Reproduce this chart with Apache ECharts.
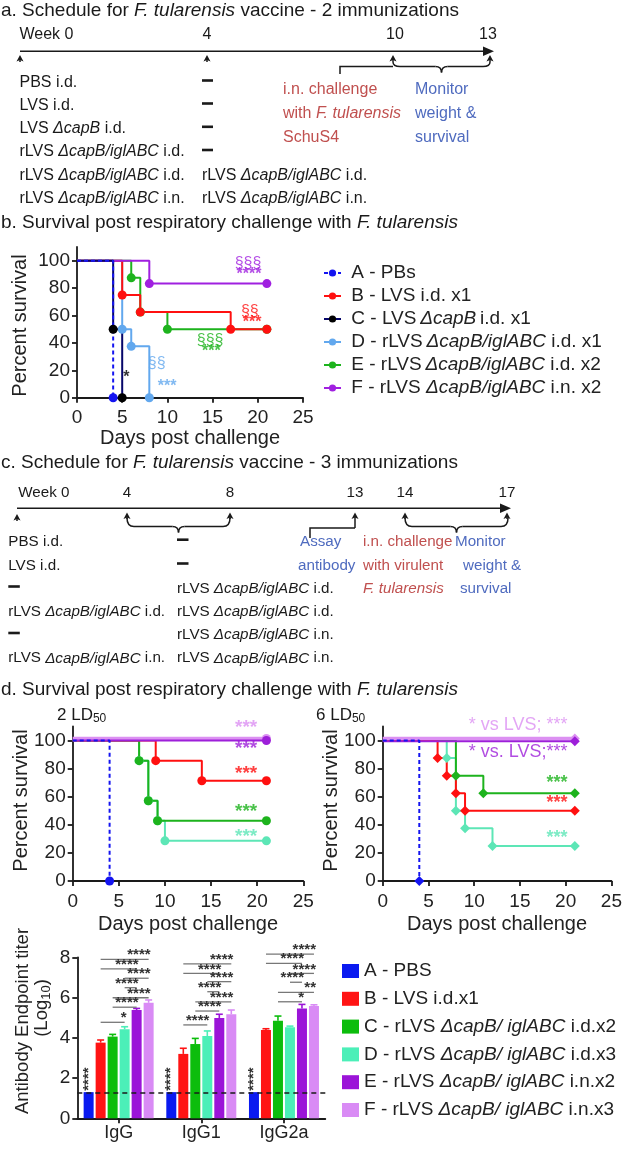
<!DOCTYPE html>
<html><head><meta charset="utf-8">
<script src="https://cdn.jsdelivr.net/npm/echarts@6/dist/echarts.min.js"></script>
<style>html,body{margin:0;padding:0;background:#fff}#c{width:625px;height:1149px}</style>
</head><body><div id="c"></div>
<script>
// ================= DATA =================
const survivalTicks = [0, 20, 40, 60, 80, 100];

// Panel b: Kaplan-Meier (2 immunizations)
const bGroups = ['A - PBs', 'B - LVS i.d. x1', 'C - LVS\u2009ΔcapB\u2009i.d. x1', 'D - rLVS\u2009ΔcapB/iglABC i.d. x1', 'E - rLVS\u2009ΔcapB/iglABC i.d. x2', 'F - rLVS ΔcapB/iglABC i.n. x2'];
const bDays = [[0, 4], [0, 5, 7, 17, 21], [0, 4, 5], [0, 5, 6, 8], [0, 6, 7, 10, 21], [0, 8, 21]];
const bSurvival = [[100, 0], [100, 75, 62.5, 50, 50], [100, 50, 0], [100, 50, 37.5, 0], [100, 87.5, 62.5, 50, 50], [100, 83.3, 83.3]];
// annotations: [day (right edge), survival, text, group index]
const bNotes = [[20.4, 98, '§§§', 5], [20.4, 90, '****', 5], [20.1, 63, '§§', 1], [20.4, 55, '***', 1], [16.2, 42, '§§§', 4], [15.9, 34, '***', 4], [9.8, 25, '§§', 3], [11.0, 8, '***', 3], [5.8, 15, '*', 2]];

// Panel d: 2 LD50
const d2Days = [[0, 4], [0, 9, 14, 21], [0, 7.2, 8.2, 9.2, 21], [0, 7.2, 8.2, 9.2, 10, 21], [0, 21], [0, 21]];
const d2Survival = [[100, 0], [100, 85.7, 71.4, 71.4], [100, 85.7, 57.1, 42.9, 42.9], [100, 85.7, 57.1, 42.9, 28.6, 28.6], [100, 100], [101.5, 101.5]];
const d2Notes = [[20.0, 108.8, '***', 5], [20.0, 94.5, '***', 4], [20.0, 76.7, '***', 1], [20.0, 49.4, '***', 2], [20.0, 31.6, '***', 3]];

// Panel d: 6 LD50
const d6Days = [[0, 4], [0, 6, 7, 8, 9, 21], [0, 8, 11, 21], [0, 7, 8, 9, 12, 21], [0, 21], [0, 21]];
const d6Survival = [[100, 0], [100, 87.5, 75, 62.5, 50, 50], [100, 75, 62.5, 62.5], [100, 87.5, 50, 37.5, 25, 25], [99.5, 99.5], [101.5, 101.5]];
const d6Notes = [[20.2, 111, '* vs LVS; ***', 5], [20.2, 92, '* vs. LVS;***', 4], [20.2, 69.6, '***', 2], [20.2, 55.8, '***', 1], [20.2, 30.4, '***', 3]];

// Antibody titers
const barCategories = ['IgG', 'IgG1', 'IgG2a'];
const barGroups = ['A - PBS', 'B - LVS i.d.x1', 'C - rLVS ΔcapB/ iglABC i.d.x2', 'D - rLVS ΔcapB/ iglABC i.d.x3', 'E - rLVS ΔcapB/ iglABC i.n.x2', 'F - rLVS ΔcapB/ iglABC i.n.x3'];
const titerMean = [[1.3, 1.3, 1.3], [3.76, 3.2, 4.39], [4.06, 3.69, 4.85], [4.42, 4.09, 4.52], [5.38, 4.98, 5.46], [5.74, 5.17, 5.58]];
const titerSEM = [[0, 0, 0], [0.13, 0.28, 0.06], [0.11, 0.28, 0.23], [0.13, 0.25, 0.06], [0.08, 0.19, 0.2], [0.14, 0.21, 0.06]];
const detectionLimit = 1.28;
// significance: [category, fromGroup, toGroup, level, text]
const sigPairs = [
  [0, 1, 5, 7.9, '****'], [0, 1, 4, 7.42, '****'], [0, 3, 5, 6.96, '****'], [0, 3, 4, 6.49, '****'], [0, 2, 5, 5.99, '****'], [0, 2, 4, 5.52, '****'], [0, 1, 3, 4.77, '*'],
  [1, 1, 5, 7.67, '****'], [1, 1, 4, 7.2, '****'], [1, 3, 5, 6.79, '****'], [1, 3, 4, 6.29, '****'], [1, 2, 5, 5.79, '****'], [1, 2, 4, 5.33, '****'], [1, 1, 3, 4.64, '****'],
  [2, 1, 5, 8.16, '****'], [2, 1, 4, 7.7, '****'], [2, 3, 5, 7.2, '****'], [2, 3, 4, 6.76, '****'], [2, 2, 5, 6.26, '**'], [2, 2, 4, 5.79, '*']
];
const pbsNoteLevel = 1.95;

// ================= STYLE =================
const FONT = "'Liberation Sans', Arial, Helvetica, sans-serif";
const INK = '#1a1a1a';
const bColors = ['#1414f0', '#ff1010', '#06066a', '#62a8ee', '#1db31d', '#a020e0'];
const bDotColors = ['#1414f0', '#ff1010', '#000000', '#62a8ee', '#1db31d', '#a020e0'];
const dColors = ['#1414f0', '#ff1010', '#1db31d', '#5de6b6', '#9d1fd9', '#dc90f2'];
const barColors = ['#0a1af0', '#ff1414', '#0cbd0c', '#4cefb8', '#9b14d8', '#d98bf5'];
const RED_TXT = '#c0504f', BLUE_TXT = '#4f6bbf';
const BAR_W = 10, BAR_GAP = 0.2;

function ital(s) { return s.replace(/ΔcapB\/ ?iglABC|ΔcapB/g, m => '{i|' + m + '}'); }

function axisBase(gridIndex) {
  return {
    gridIndex,
    axisLine: { show: true, onZero: false, lineStyle: { color: INK, width: 1.8 } },
    axisTick: { show: true, inside: false, length: 5, lineStyle: { color: INK, width: 1.8 } },
    splitLine: { show: false }
  };
}
function survX(gi, gap) {
  return Object.assign(axisBase(gi), {
    type: 'value', min: 0, max: 25, interval: 5,
    axisLabel: { fontSize: 19, color: '#222', margin: 11, fontFamily: FONT },
    name: 'Days post challenge', nameLocation: 'middle', nameGap: gap,
    nameTextStyle: { fontSize: 20, color: '#222', fontFamily: FONT }
  });
}
function survY(gi) {
  const a = axisBase(gi);
  a.axisTick.customValues = survivalTicks;
  return Object.assign(a, {
    type: 'value', min: 0, max: 110, interval: 20,
    axisLabel: { fontSize: 19, color: '#222', margin: 7, fontFamily: FONT, customValues: survivalTicks, formatter: v => (v > 100 ? '' : v) }
  });
}

function kmSeries(name, days, surv, axis, color, dotColor, symbol, size, dashed, width) {
  return {
    type: 'line', name, step: 'end', xAxisIndex: axis, yAxisIndex: axis,
    data: days.map((d, i) => i === 0 ? { value: [d, surv[i]], symbol: 'none' } : [d, surv[i]]),
    symbol, symbolSize: size, showAllSymbol: true, clip: false,
    lineStyle: { color, width: width || 2, type: dashed ? [4, 3] : 'solid' },
    itemStyle: { color: dotColor, borderWidth: 0 },
    emphasis: { disabled: true }
  };
}
function noteSeries(notes, axis, colors, fs) {
  return {
    type: 'scatter', xAxisIndex: axis, yAxisIndex: axis, symbolSize: 1, clip: false,
    itemStyle: { color: 'rgba(0,0,0,0)' }, silent: true, z: 5,
    data: notes.map(n => ({
      value: [n[0], n[1]],
      label: { show: true, position: 'inside', align: 'right', verticalAlign: 'middle', formatter: n[2], color: colors[n[3]], fontSize: fs, fontFamily: FONT, fontWeight: /^\*+$/.test(n[2]) ? 'bold' : 'normal' }
    }))
  };
}

// ================= SERIES =================
const series = [];
[4, 3, 1, 5, 2, 0].forEach(k => series.push(kmSeries(bGroups[k], bDays[k], bSurvival[k], 0, bColors[k], bDotColors[k], 'circle', 9, k === 0)));
series.push(noteSeries(bNotes, 0, bDotColors, 16));
[3, 2, 1, 5, 4, 0].forEach(k => series.push(kmSeries('2LD50 ' + k, d2Days[k], d2Survival[k], 1, dColors[k], dColors[k], 'circle', 9, k === 0, k === 5 ? 3.5 : 2)));
series.push(noteSeries(d2Notes, 1, dColors, 19));
[3, 2, 1, 5, 4, 0].forEach(k => series.push(kmSeries('6LD50 ' + k, d6Days[k], d6Survival[k], 2, dColors[k], dColors[k], 'diamond', 10, k === 0, k === 5 ? 3.5 : 2)));
series.push(noteSeries(d6Notes, 2, dColors, 18));

barGroups.forEach((n, j) => {
  const s = {
    type: 'bar', name: n, xAxisIndex: 3, yAxisIndex: 3, data: titerMean[j],
    barWidth: BAR_W, barGap: (BAR_GAP * 100) + '%', itemStyle: { color: barColors[j] }, emphasis: { disabled: true }
  };
  if (j === 0) s.markLine = { silent: true, symbol: 'none', label: { show: false }, lineStyle: { type: [5, 4], color: INK, width: 1.6 }, data: [{ yAxis: detectionLimit }] };
  series.push(s);
});
const errData = [];
titerMean.forEach((row, j) => row.forEach((m, c) => { if (titerSEM[j][c] > 0) errData.push([c, j, m, titerSEM[j][c]]); }));
series.push({
  type: 'custom', xAxisIndex: 3, yAxisIndex: 3, data: errData, encode: { x: 0, y: 2 }, z: 4, silent: true,
  renderItem(params, api) {
    const c = api.value(0), j = api.value(1), m = api.value(2), e = api.value(3);
    const base = api.coord([c, m]), top = api.coord([c, m + e]);
    const x = base[0] + (j - 2.5) * BAR_W * (1 + BAR_GAP);
    const st = { stroke: barColors[j], lineWidth: 1.6 };
    return { type: 'group', children: [
      { type: 'line', shape: { x1: x, y1: base[1], x2: x, y2: top[1] }, style: st },
      { type: 'line', shape: { x1: x - 3.5, y1: top[1], x2: x + 3.5, y2: top[1] }, style: st }
    ] };
  }
});
series.push({
  type: 'custom', xAxisIndex: 3, yAxisIndex: 3, data: sigPairs.map(p => [p[0], p[1], p[2], p[3]]), encode: { x: 0, y: 3 }, z: 5, silent: true,
  renderItem(params, api) {
    const c = api.value(0), f = api.value(1), t = api.value(2), lv = api.value(3);
    const p = api.coord([c, lv]);
    const pitch = BAR_W * (1 + BAR_GAP);
    const x1 = p[0] + (f - 2.5) * pitch, x2 = p[0] + (t - 2.5) * pitch;
    return { type: 'group', children: [
      { type: 'line', shape: { x1, y1: p[1], x2, y2: p[1] }, style: { stroke: '#777', lineWidth: 1.3 } },
      { type: 'text', style: { text: sigPairs[params.dataIndex][4], x: x2 + 2, y: p[1] + 3.5, align: 'right', verticalAlign: 'bottom', fontSize: 15, fontWeight: 'bold', fill: '#333', fontFamily: FONT } }
    ] };
  }
});
series.push({
  type: 'custom', xAxisIndex: 3, yAxisIndex: 3, data: barCategories.map((_, i) => [i, pbsNoteLevel]), encode: { x: 0, y: 1 }, z: 5, silent: true,
  renderItem(params, api) {
    const p = api.coord([api.value(0), api.value(1)]);
    const x = p[0] + (0 - 2.5) * BAR_W * (1 + BAR_GAP);
    return { type: 'text', x, y: p[1], rotation: Math.PI / 2, style: { text: '****', align: 'center', verticalAlign: 'middle', fontSize: 15, fontWeight: 'bold', fill: '#333', fontFamily: FONT } };
  }
});

// ================= GRAPHIC (schedules, titles) =================
const G = [];
function T(x, y, text, fs, fill, extra) {
  const style = Object.assign({
    text, x, y, fontSize: fs, fill: fill || INK, fontFamily: FONT, verticalAlign: 'middle', align: 'left',
    rich: {
      i: { fontStyle: 'italic', fontSize: fs, fill: fill || INK, fontFamily: FONT },
      s: { fontSize: Math.round(fs * 0.7), fill: fill || INK, fontFamily: FONT, padding: [Math.round(fs * 0.45), 0, 0, 0] }
    }
  }, extra || {});
  G.push({ type: 'text', style, silent: true });
}
function VT(x, y, text, fs) {
  G.push({ type: 'text', x, y, rotation: Math.PI / 2, silent: true, style: { text, align: 'center', verticalAlign: 'middle', fontSize: fs, fill: '#222', fontFamily: FONT,
    rich: { s: { fontSize: Math.round(fs * 0.7), fill: '#222', fontFamily: FONT, padding: [Math.round(fs * 0.45), 0, 0, 0] } } } });
}
function L(points, w) { G.push({ type: 'polyline', silent: true, shape: { points }, style: { stroke: INK, lineWidth: w || 1.5, fill: null } }); }
function Q(x1, y1, cx, cy, x2, y2) { G.push({ type: 'bezierCurve', silent: true, shape: { x1, y1, x2, y2, cpx1: cx, cpy1: cy }, style: { stroke: INK, lineWidth: 1.5, fill: null } }); }
function brace(xa, xb, yTop, yMid, yTip) {
  const m = (xa + xb) / 2;
  Q(xa, yTop, xa, yMid, xa + 7, yMid);
  L([[xa + 7, yMid], [m - 6, yMid]]);
  Q(m - 6, yMid, m, yMid, m, yTip);
  Q(m, yTip, m, yMid, m + 6, yMid);
  L([[m + 6, yMid], [xb - 7, yMid]]);
  Q(xb - 7, yMid, xb, yMid, xb, yTop);
}
function up(x, tip, bottom) {
  L([[x, tip + 4], [x, bottom]]);
  G.push({ type: 'polygon', silent: true, shape: { points: [[x, tip], [x - 3.5, tip + 6.5], [x, tip + 5], [x + 3.5, tip + 6.5]] }, style: { fill: INK } });
}
function right(x1, x2, y) {
  L([[x1, y], [x2 - 8, y]]);
  G.push({ type: 'polygon', silent: true, shape: { points: [[x2, y], [x2 - 11, y - 4.8], [x2 - 11, y + 4.8]] }, style: { fill: INK } });
}
function dash(x, y, w) { G.push({ type: 'rect', silent: true, shape: { x, y: y - 1.3, width: w, height: 2.6 }, style: { fill: INK } }); }

const TF = 19;
T(1, 11, 'a. Schedule for {i|F. tularensis} vaccine - 2 immunizations', TF);
T(1, 223, 'b. Survival post respiratory challenge with {i|F. tularensis}', TF);
T(1, 463, 'c. Schedule for {i|F. tularensis} vaccine - 3 immunizations', TF);
T(1, 690, 'd. Survival post respiratory challenge with {i|F. tularensis}', TF);

// Panel a schedule
const AF = 16;
T(19.5, 35, 'Week 0', AF);
T(207, 35, '4', AF, INK, { align: 'center' });
T(395, 35, '10', AF, INK, { align: 'center' });
T(488, 35, '13', AF, INK, { align: 'center' });
right(20, 494, 51.3);
up(20, 55, 62); up(207, 55, 62); up(393, 55, 62); up(490, 55, 62);
brace(393, 490, 62, 66.5, 72.5);
L([[340, 74], [340, 66.5], [393, 66.5]]);
const aRows = [82.5, 105.5, 128.8, 152, 175.2, 198.4];
T(19.5, aRows[0], 'PBS i.d.', AF);
T(19.5, aRows[1], 'LVS i.d.', AF);
T(19.5, aRows[2], 'LVS {i|ΔcapB} i.d.', AF);
T(19.5, aRows[3], 'rLVS {i|ΔcapB/iglABC} i.d.', AF);
T(19.5, aRows[4], 'rLVS {i|ΔcapB/iglABC} i.d.', AF);
T(19.5, aRows[5], 'rLVS {i|ΔcapB/iglABC} i.n.', AF);
[0, 1, 2, 3].forEach(r => dash(202, aRows[r] - 2, 11));
T(202, aRows[4], 'rLVS {i|ΔcapB/iglABC} i.d.', AF);
T(202, aRows[5], 'rLVS {i|ΔcapB/iglABC} i.n.', AF);
T(283, 90, 'i.n. challenge', AF, RED_TXT);
T(283, 114, 'with {i|F. tularensis}', AF, RED_TXT);
T(283, 138, 'SchuS4', AF, RED_TXT);
T(415, 90, 'Monitor', AF, BLUE_TXT);
T(415, 114, 'weight &', AF, BLUE_TXT);
T(415, 138, 'survival', AF, BLUE_TXT);

// Panel c schedule
const CF = 15.2;
T(18.3, 493.3, 'Week 0', CF);
[[127, '4'], [230, '8'], [355, '13'], [405, '14'], [507, '17']].forEach(w => T(w[0], 493.3, w[1], CF, INK, { align: 'center' }));
right(17, 511, 508.3);
up(17, 514, 521); up(127, 512.5, 519); up(230, 512.5, 519); up(355, 512.5, 528); up(405, 512.5, 519); up(507, 512.5, 519);
brace(127, 230, 518, 526.5, 532.5);
brace(405, 508, 518, 526.5, 532.5);
L([[310, 538], [310, 528], [355, 528]]);
const cRows = [541.7, 565.5, 588.5, 611.7, 635, 658.3];
T(8.3, cRows[0], 'PBS i.d.', CF);
T(8.3, cRows[1], 'LVS i.d.', CF);
dash(8.3, cRows[2] - 2, 11.5);
T(8.3, cRows[3], 'rLVS {i|ΔcapB/iglABC} i.d.', CF);
dash(8.3, cRows[4] - 2, 11.5);
T(8.3, cRows[5], 'rLVS {i|ΔcapB/iglABC} i.n.', CF);
dash(177, cRows[0] - 2, 11.5);
dash(177, cRows[1] - 2, 11.5);
T(177, cRows[2], 'rLVS {i|ΔcapB/iglABC} i.d.', CF);
T(177, cRows[3], 'rLVS {i|ΔcapB/iglABC} i.d.', CF);
T(177, cRows[4], 'rLVS {i|ΔcapB/iglABC} i.n.', CF);
T(177, cRows[5], 'rLVS {i|ΔcapB/iglABC} i.n.', CF);
T(300, cRows[0], 'Assay', CF, BLUE_TXT);
T(298, cRows[1], 'antibody', CF, BLUE_TXT);
T(363, cRows[0], 'i.n. challenge', CF, RED_TXT);
T(363, cRows[1], 'with virulent', CF, RED_TXT);
T(363, cRows[2], '{i|F. tularensis}', CF, RED_TXT);
T(455, cRows[0], 'Monitor', CF, BLUE_TXT);
T(463, cRows[1], 'weight &', CF, BLUE_TXT);
T(460, cRows[2], 'survival', CF, BLUE_TXT);

// Panel d labels
T(57, 715, '2 LD{s|50}', 17);
T(316, 715, '6 LD{s|50}', 17);

// y-axis titles
VT(20, 325.5, 'Percent survival', 20);
VT(21.7, 800.5, 'Percent survival', 20);
VT(331.7, 800.5, 'Percent survival', 20);
VT(23, 1021, 'Antibody Endpoint titer', 18.5);
VT(42, 1008, '(Log{s|10})', 18.5);

// ================= OPTION =================
const option = {
  animation: false,
  backgroundColor: '#fff',
  textStyle: { fontFamily: FONT },
  grid: [
    { left: 77, top: 247, width: 226, height: 150.7 },
    { left: 72.7, top: 726.5, width: 230.6, height: 154.5 },
    { left: 382.7, top: 726.5, width: 230.6, height: 154.5 },
    { left: 77.3, top: 957.3, width: 248, height: 161 }
  ],
  xAxis: [
    survX(0, 31),
    survX(1, 33),
    survX(2, 33),
    Object.assign(axisBase(3), {
      type: 'category', data: barCategories,
      axisTick: { show: true, alignWithLabel: true, length: 5, lineStyle: { color: INK, width: 1.8 } },
      axisLabel: { fontSize: 18, color: '#222', margin: 6, fontFamily: FONT }
    })
  ],
  yAxis: [
    survY(0), survY(1), survY(2),
    Object.assign(axisBase(3), {
      type: 'value', min: 0, max: 8, interval: 2,
      axisLabel: { fontSize: 19, color: '#222', margin: 7, fontFamily: FONT }
    })
  ],
  legend: [
    {
      data: bGroups, orient: 'vertical', left: 318, top: 258, itemWidth: 17, itemHeight: 9, itemGap: 3,
      selectedMode: false, formatter: n => ' ' + ital(n),
      textStyle: { fontSize: 19, color: '#222', lineHeight: 20, fontFamily: FONT, rich: { i: { fontStyle: 'italic', fontSize: 19, color: '#222', fontFamily: FONT } } }
    },
    {
      data: barGroups, orient: 'vertical', left: 337, top: 956, itemWidth: 17, itemHeight: 14, itemGap: 7.8, icon: 'rect',
      selectedMode: false, formatter: n => ital(n),
      textStyle: { fontSize: 19, color: '#222', lineHeight: 20, fontFamily: FONT, rich: { i: { fontStyle: 'italic', fontSize: 19, color: '#222', fontFamily: FONT } } }
    }
  ],
  series,
  graphic: { elements: G }
};

const chart = echarts.init(document.getElementById('c'), null, { renderer: 'canvas', width: 625, height: 1149 });
chart.setOption(option);
</script>
</body></html>
